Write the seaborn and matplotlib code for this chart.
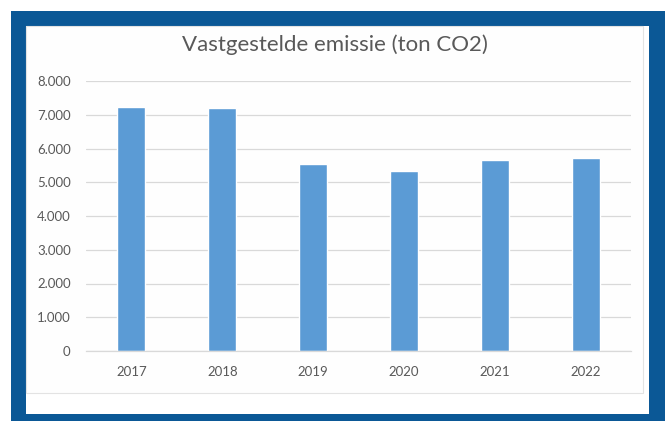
import pandas as pd
import matplotlib.pyplot as plt
import matplotlib.patches as mpatches
from matplotlib.ticker import FuncFormatter, MultipleLocator
import seaborn as sns

# Data
years = ["2017", "2018", "2019", "2020", "2021", "2022"]
emissions = [7240, 7190, 5540, 5340, 5660, 5710]

df = pd.DataFrame({"jaar": years, "emissie": emissions})

sns.set_theme(style="white")
plt.rcParams["font.family"] = ["Lato", "DejaVu Sans"]

W, H = 665, 421
fig = plt.figure(figsize=(W / 100, H / 100), dpi=100)
fig.patch.set_facecolor("white")

# Blue frame and white inner panel (pixel coords converted to figure fractions)
def px_rect(x0, y0, x1, y1, **kw):
    return mpatches.Rectangle((x0 / W, 1 - y1 / H), (x1 - x0) / W, (y1 - y0) / H,
                              transform=fig.transFigure, zorder=-10, **kw)

fig.patches.append(px_rect(11, 11, 665, 421, facecolor="#0b5896", edgecolor="none"))
fig.patches.append(px_rect(26, 26, 649, 414, facecolor="white", edgecolor="none"))
fig.patches.append(px_rect(26, 26, 643, 393, facecolor="#fefefe", edgecolor="#e3e3e3", linewidth=0.8))

ax = fig.add_axes([86 / W, 1 - 351 / H, (631 - 86) / W, (351 - 81) / H])
sns.barplot(data=df, x="jaar", y="emissie", color="#5b9bd5", width=0.31,
            saturation=1, ax=ax)

ax.set_ylim(0, 8000)
ax.yaxis.set_major_locator(MultipleLocator(1000))
ax.yaxis.set_major_formatter(FuncFormatter(lambda v, p: f"{int(v):,}".replace(",", ".")))
ax.grid(axis="y", color="#d9d9d9", linewidth=0.9)
ax.set_axisbelow(True)
ax.set_facecolor("none")
for s in ["top", "right", "left"]:
    ax.spines[s].set_visible(False)
ax.spines["bottom"].set_color("#d9d9d9")
ax.spines["bottom"].set_linewidth(0.9)
ax.set_xlabel("")
ax.set_ylabel("")
ax.tick_params(axis="y", length=0, pad=11, labelsize=9.5, labelcolor="#595959")
ax.tick_params(axis="x", length=0, pad=11, labelsize=9.5, labelcolor="#595959")

fig.text(335 / W, 1 - 45 / H, "Vastgestelde emissie (ton CO2)", ha="center", va="center",
         fontsize=16, color="#595959")

fig.savefig("out.png", dpi=100)
